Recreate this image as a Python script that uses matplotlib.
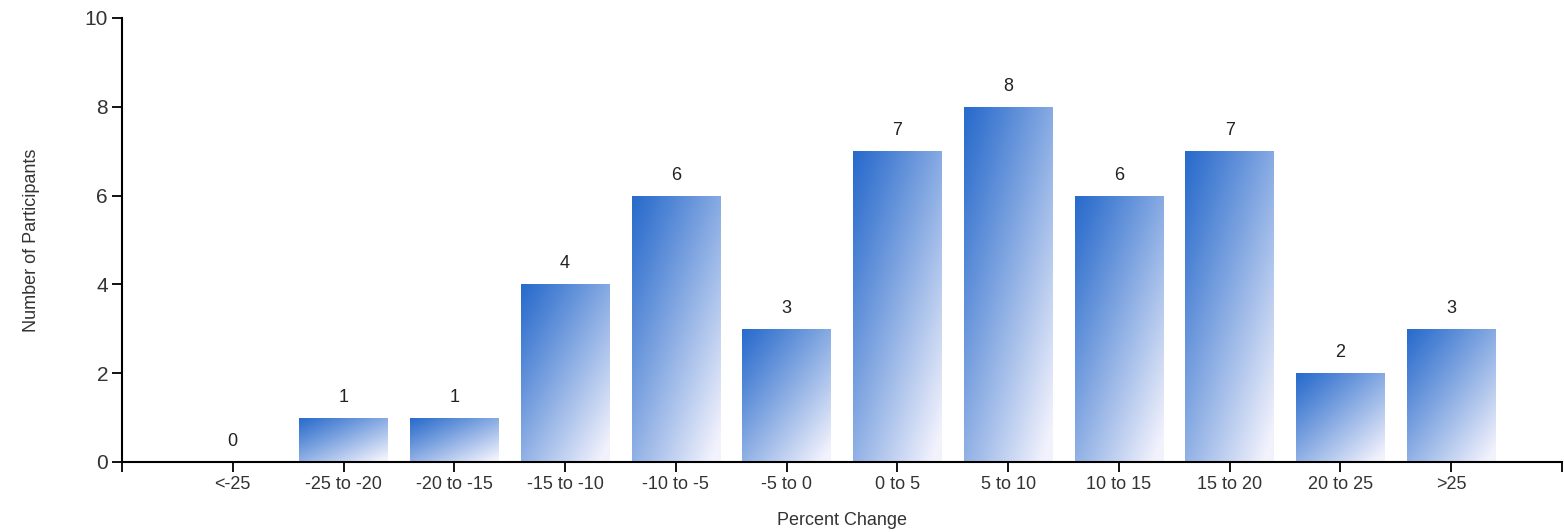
import numpy as np
import matplotlib.pyplot as plt
from matplotlib.patches import Rectangle

categories = ["<-25", "-25 to -20", "-20 to -15", "-15 to -10", "-10 to -5", "-5 to 0",
              "0 to 5", "5 to 10", "10 to 15", "15 to 20", "20 to 25", ">25"]
counts = [0, 1, 1, 4, 6, 3, 7, 8, 6, 7, 2, 3]

plt.rcParams["font.family"] = ["Liberation Sans", "DejaVu Sans"]

fig = plt.figure(figsize=(15.64, 5.32), dpi=100)
ax = fig.add_axes([0.078, 0.1316, 0.9207, 0.8346])

# gradient: blue top-left -> white bottom-right
n = 64
u = np.linspace(0, 1, n)
U, V = np.meshgrid(u, u)  # V: 0 at top row
t = np.clip(0.5 * U + 0.55 * V, 0, 1) ** 1.1
c0 = np.array([0.16, 0.42, 0.80])
c1 = np.array([0.95, 0.95, 0.99])
grad = c0[None, None, :] * (1 - t[..., None]) + c1[None, None, :] * t[..., None]

width = 0.8
x = np.arange(len(categories))
for xi, h in zip(x, counts):
    if h > 0:
        rect = Rectangle((xi - width / 2, 0), width, h, facecolor="none", edgecolor="none")
        ax.add_patch(rect)
        im = ax.imshow(grad, extent=(xi - width / 2, xi + width / 2, 0, h),
                       origin="upper", aspect="auto", zorder=2, interpolation="bilinear")
        im.set_clip_path(rect)
    ax.text(xi, h + 0.27, str(h), ha="center", va="bottom", fontsize=13, color="#222222")

ax.set_xlim(-1, 12)
ax.set_ylim(0, 10)
ax.set_xticks(np.arange(-1, 13))
ax.set_xticklabels([""] + categories + [""], fontsize=13, color="#333333")
ax.set_yticks([0, 2, 4, 6, 8, 10])
ax.set_yticklabels(["0", "2", "4", "6", "8", "10"], fontsize=15, color="#333333")
ax.tick_params(axis="both", length=7, width=1.3, direction="out", pad=3)

for s in ["top", "right"]:
    ax.spines[s].set_visible(False)
for s in ["left", "bottom"]:
    ax.spines[s].set_linewidth(1.5)

ax.set_xlabel("Percent Change", fontsize=13, color="#333333", labelpad=14)
ax.set_ylabel("Number of Participants", fontsize=13, color="#333333", labelpad=32)

fig.savefig("out.png", dpi=100)
